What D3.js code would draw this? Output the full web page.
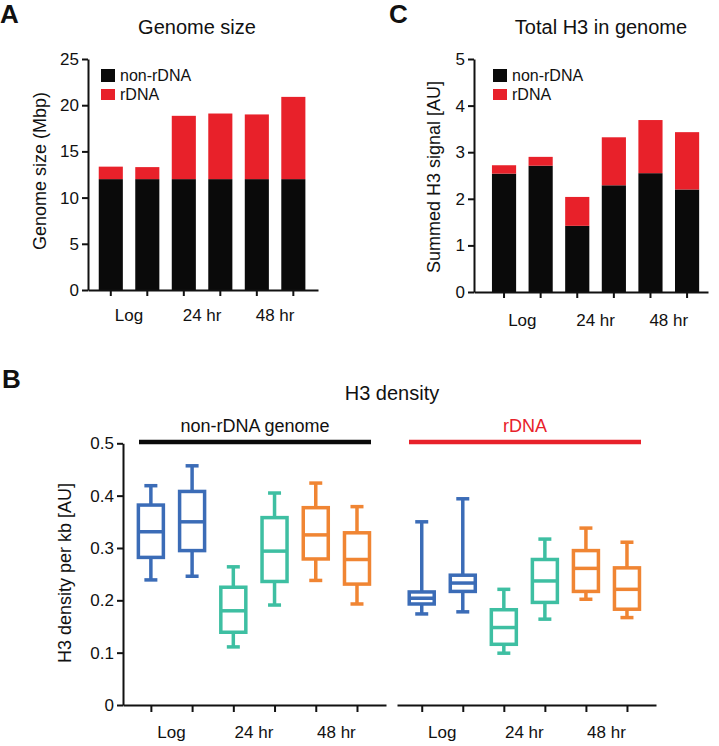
<!DOCTYPE html>
<html><head><meta charset="utf-8">
<script src="https://cdn.jsdelivr.net/npm/d3@7"></script>
<style>
body{margin:0;background:#fff}
text{font-family:"Liberation Sans",Arial,Helvetica,sans-serif;fill:#111}
</style>
</head><body><svg id="c" width="719" height="746"></svg>
<script>
// ---------- data ----------
const samples = ["Log-1","Log-2","24hr-1","24hr-2","48hr-1","48hr-2"];
const groupLabels = ["Log","24 hr","48 hr"];
const yTicksA = [0,5,10,15,20,25];
const yTicksC = [0,1,2,3,4,5];
const yTicksB = [0,0.1,0.2,0.3,0.4,0.5];

// Panel A: genome size (Mbp)
const genomeNonRDNA = [12.0,12.0,12.0,12.0,12.0,12.0];
const genomeRDNA    = [1.35,1.3,6.85,7.1,7.0,8.9];

// Panel C: summed H3 signal [AU]
const h3NonRDNA = [2.54,2.71,1.42,2.29,2.55,2.20];
const h3RDNA    = [0.18,0.19,0.62,1.03,1.14,1.23];

// Panel B: H3 density per kb box plots (6 non-rDNA, then 6 rDNA)
const boxSamples   = ["n1","n2","n3","n4","n5","n6","r1","r2","r3","r4","r5","r6"];
const boxCondition = [0,0,1,1,2,2, 0,0,1,1,2,2];
const whiskerHigh = [0.419,0.457,0.264,0.405,0.424,0.379, 0.350,0.394,0.221,0.317,0.338,0.311];
const boxQ3       = [0.382,0.408,0.225,0.358,0.377,0.329, 0.216,0.248,0.182,0.278,0.295,0.262];
const boxMedian   = [0.331,0.350,0.180,0.294,0.325,0.278, 0.204,0.233,0.148,0.237,0.261,0.221];
const boxQ1       = [0.282,0.295,0.139,0.236,0.279,0.231, 0.193,0.217,0.116,0.196,0.217,0.183];
const whiskerLow  = [0.239,0.246,0.111,0.191,0.238,0.193, 0.174,0.178,0.099,0.164,0.202,0.167];
const sectionLabels = ["non-rDNA genome","rDNA"];

const black = "#0a0a0a", red = "#e8212a";
const condColors = ["#3b6cb7","#3ebfa2","#f08533"];

const svg = d3.select("#c");

function styleAxis(g, fs){
  g.selectAll(".domain").attr("stroke","#111").attr("stroke-width",2);
  g.selectAll(".tick line").attr("stroke","#111").attr("stroke-width",2);
  g.selectAll(".tick text").attr("font-size",fs).attr("fill","#111")
   .attr("font-family","'Liberation Sans',Arial,sans-serif");
}

function stackedPanel(opt){
  const {x0,x1,align,y0,y1,yMax,ticks,nonR,rD,title,titleX,letter,letterX,ylabel,ylabelX,ylabelY,legendX} = opt;
  const x = d3.scaleBand().domain(samples).range([x0,x1]).paddingInner(0.34).paddingOuter(opt.po).align(align);
  const y = d3.scaleLinear().domain([0,yMax]).range([y0,y1]);
  // bars
  svg.append("g").selectAll("rect.n").data(samples).join("rect")
    .attr("x",d=>x(d)).attr("width",x.bandwidth())
    .attr("y",(d,i)=>y(nonR[i])).attr("height",(d,i)=>y(0)-y(nonR[i])).attr("fill",black);
  svg.append("g").selectAll("rect.r").data(samples).join("rect")
    .attr("x",d=>x(d)).attr("width",x.bandwidth())
    .attr("y",(d,i)=>y(nonR[i]+rD[i])).attr("height",(d,i)=>y(nonR[i])-y(nonR[i]+rD[i])).attr("fill",red);
  // axes
  const gy = svg.append("g").attr("transform",`translate(${x0},0)`)
    .call(d3.axisLeft(y).tickValues(ticks).tickSize(6).tickSizeOuter(0).tickPadding(3).tickFormat(d3.format("d")));
  styleAxis(gy,17);
  const gx = svg.append("g").attr("transform",`translate(0,${y0})`)
    .call(d3.axisBottom(x).tickSize(6).tickSizeOuter(0).tickFormat(""));
  styleAxis(gx,17);
  groupLabels.forEach((lab,k)=>{
    const cx = (x(samples[2*k])+x(samples[2*k+1])+x.bandwidth())/2;
    svg.append("text").attr("x",cx).attr("y",opt.xlabY).attr("text-anchor","middle").attr("font-size",17).text(lab);
  });
  // title & letter
  svg.append("text").attr("x",titleX).attr("y",34).attr("text-anchor","middle").attr("font-size",20).text(title);
  svg.append("text").attr("x",letterX).attr("y",23).attr("font-size",26).attr("font-weight","bold").text(letter);
  svg.append("text").attr("transform",`translate(${ylabelX},${ylabelY}) rotate(-90)`)
    .attr("text-anchor","middle").attr("dy","0.35em").attr("font-size",18).text(ylabel);
  // legend
  svg.append("rect").attr("x",legendX).attr("y",69).attr("width",14).attr("height",13).attr("fill",black);
  svg.append("text").attr("x",legendX+19).attr("y",81).attr("font-size",16).text("non-rDNA");
  svg.append("rect").attr("x",legendX).attr("y",89).attr("width",14).attr("height",11).attr("fill",red);
  svg.append("text").attr("x",legendX+19).attr("y",99.5).attr("font-size",16).text("rDNA");
}

stackedPanel({x0:88,x1:318,po:0.32,align:0.46,y0:290,y1:59,yMax:25,ticks:yTicksA,
  nonR:genomeNonRDNA,rD:genomeRDNA,title:"Genome size",titleX:197,letter:"A",letterX:0,
  ylabel:"Genome size (Mbp)",ylabelX:40,ylabelY:171,legendX:101,xlabY:321});
stackedPanel({x0:474,x1:708,po:0.366,align:0.67,y0:292,y1:59,yMax:5,ticks:yTicksC,
  nonR:h3NonRDNA,rD:h3RDNA,title:"Total H3 in genome",titleX:601,letter:"C",letterX:389,
  ylabel:"Summed H3 signal [AU]",ylabelX:434,ylabelY:177,legendX:493,xlabY:326});

// ---------- Panel B ----------
const yB = d3.scaleLinear().domain([0,0.5]).range([705,443.3]);
const xL = d3.scalePoint().domain(boxSamples.slice(0,6)).range([123,386]).padding(0.69).align(0.49);
const xR = d3.scalePoint().domain(boxSamples.slice(6)).range([397,656]).padding(0.655).align(0.46);
const xB = d => (xL.domain().includes(d) ? xL(d) : xR(d));

const gyB = svg.append("g").attr("transform","translate(123,0)")
  .call(d3.axisLeft(yB).tickValues(yTicksB).tickSize(6).tickSizeOuter(0).tickPadding(3)
    .tickFormat(d=>d===0?"0":d3.format(".1f")(d)));
styleAxis(gyB,17);
[xL,xR].forEach(sc=>{
  const g = svg.append("g").attr("transform","translate(0,705)")
    .call(d3.axisBottom(sc).tickSize(7).tickSizeOuter(0).tickFormat(""));
  styleAxis(g,17);
  const dom = sc.domain();
  groupLabels.forEach((lab,k)=>{
    svg.append("text").attr("x",(sc(dom[2*k])+sc(dom[2*k+1]))/2).attr("y",738)
      .attr("text-anchor","middle").attr("font-size",17).text(lab);
  });
});

const bw = 25, cap = 13, sw = 3.5;
const gb = svg.append("g").attr("fill","none").attr("stroke-width",sw);
boxSamples.forEach((s,i)=>{
  const cx = xB(s), col = condColors[boxCondition[i]];
  const g = gb.append("g").attr("stroke",col);
  g.append("line").attr("x1",cx).attr("x2",cx).attr("y1",yB(boxQ3[i])).attr("y2",yB(whiskerHigh[i]));
  g.append("line").attr("x1",cx).attr("x2",cx).attr("y1",yB(boxQ1[i])).attr("y2",yB(whiskerLow[i]));
  g.append("line").attr("x1",cx-cap/2).attr("x2",cx+cap/2).attr("y1",yB(whiskerHigh[i])).attr("y2",yB(whiskerHigh[i]));
  g.append("line").attr("x1",cx-cap/2).attr("x2",cx+cap/2).attr("y1",yB(whiskerLow[i])).attr("y2",yB(whiskerLow[i]));
  g.append("rect").attr("x",cx-bw/2).attr("width",bw).attr("y",yB(boxQ3[i])).attr("height",yB(boxQ1[i])-yB(boxQ3[i])).attr("fill","#fff");
  g.append("line").attr("x1",cx-bw/2).attr("x2",cx+bw/2).attr("y1",yB(boxMedian[i])).attr("y2",yB(boxMedian[i]));
});

// section brackets
const secs = [{sc:xL,color:black,lab:sectionLabels[0],x1:139,x2:371},{sc:xR,color:red,lab:sectionLabels[1],x1:409,x2:641}];
secs.forEach(s=>{
  svg.append("line").attr("x1",s.x1).attr("x2",s.x2).attr("y1",442).attr("y2",442)
    .attr("stroke",s.color).attr("stroke-width",4.5);
  svg.append("text").attr("x",(s.x1+s.x2)/2).attr("y",432).attr("text-anchor","middle")
    .attr("font-size",18).style("fill",s.color===black?"#111":red).text(s.lab);
});
svg.append("text").attr("x",392).attr("y",400).attr("text-anchor","middle").attr("font-size",20).text("H3 density");
svg.append("text").attr("x",2).attr("y",388).attr("font-size",26).attr("font-weight","bold").text("B");
svg.append("text").attr("transform","translate(65,573) rotate(-90)").attr("text-anchor","middle")
  .attr("dy","0.35em").attr("font-size",18).text("H3 density per kb [AU]");
</script>
</body></html>
